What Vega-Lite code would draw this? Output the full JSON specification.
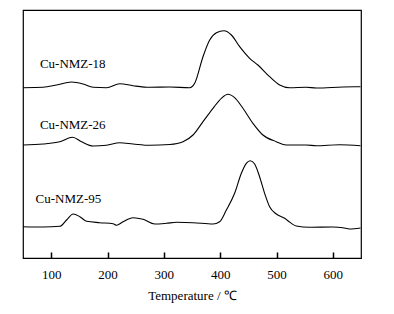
{
  "$schema": "https://vega.github.io/schema/vega-lite/v6.json",
  "width": 338,
  "height": 248,
  "autosize": "none",
  "padding": {"left": 23, "top": 10, "right": 33, "bottom": 56},
  "background": "white",
  "config": {
    "view": {"stroke": "black", "strokeWidth": 1.2},
    "font": "Liberation Serif"
  },
  "datasets": {
    "curves": [
      {"s": "Cu-NMZ-18", "T": 50, "v": 170.3},
      {"s": "Cu-NMZ-18", "T": 85.8, "v": 170.7},
      {"s": "Cu-NMZ-18", "T": 109.6, "v": 173},
      {"s": "Cu-NMZ-18", "T": 136.2, "v": 176},
      {"s": "Cu-NMZ-18", "T": 156.7, "v": 174},
      {"s": "Cu-NMZ-18", "T": 174.5, "v": 170.7},
      {"s": "Cu-NMZ-18", "T": 198.2, "v": 170.3},
      {"s": "Cu-NMZ-18", "T": 221.8, "v": 174.3},
      {"s": "Cu-NMZ-18", "T": 245.4, "v": 172.3},
      {"s": "Cu-NMZ-18", "T": 275, "v": 170.7},
      {"s": "Cu-NMZ-18", "T": 310.5, "v": 171},
      {"s": "Cu-NMZ-18", "T": 345.9, "v": 170.3},
      {"s": "Cu-NMZ-18", "T": 354.8, "v": 174.7},
      {"s": "Cu-NMZ-18", "T": 369.5, "v": 201.3},
      {"s": "Cu-NMZ-18", "T": 381.4, "v": 218},
      {"s": "Cu-NMZ-18", "T": 393.3, "v": 225.3},
      {"s": "Cu-NMZ-18", "T": 406.7, "v": 227.3},
      {"s": "Cu-NMZ-18", "T": 419.9, "v": 223},
      {"s": "Cu-NMZ-18", "T": 434.6, "v": 211.3},
      {"s": "Cu-NMZ-18", "T": 452.3, "v": 199.7},
      {"s": "Cu-NMZ-18", "T": 467.0, "v": 193},
      {"s": "Cu-NMZ-18", "T": 487.8, "v": 181.3},
      {"s": "Cu-NMZ-18", "T": 505.5, "v": 173},
      {"s": "Cu-NMZ-18", "T": 523.2, "v": 170.3},
      {"s": "Cu-NMZ-18", "T": 552.8, "v": 170.7},
      {"s": "Cu-NMZ-18", "T": 570.6, "v": 170},
      {"s": "Cu-NMZ-18", "T": 617.7, "v": 171},
      {"s": "Cu-NMZ-18", "T": 649, "v": 171.3},
      {"s": "Cu-NMZ-26", "T": 50, "v": 113},
      {"s": "Cu-NMZ-26", "T": 85.8, "v": 114},
      {"s": "Cu-NMZ-26", "T": 115.4, "v": 116.3},
      {"s": "Cu-NMZ-26", "T": 137.9, "v": 120.7},
      {"s": "Cu-NMZ-26", "T": 153.9, "v": 116.3},
      {"s": "Cu-NMZ-26", "T": 174.5, "v": 112},
      {"s": "Cu-NMZ-26", "T": 198.2, "v": 112.7},
      {"s": "Cu-NMZ-26", "T": 221.8, "v": 115.3},
      {"s": "Cu-NMZ-26", "T": 245.4, "v": 114},
      {"s": "Cu-NMZ-26", "T": 275, "v": 112.7},
      {"s": "Cu-NMZ-26", "T": 310.5, "v": 113.5},
      {"s": "Cu-NMZ-26", "T": 334.1, "v": 116.3},
      {"s": "Cu-NMZ-26", "T": 351.8, "v": 123},
      {"s": "Cu-NMZ-26", "T": 369.5, "v": 136.3},
      {"s": "Cu-NMZ-26", "T": 387.3, "v": 149.7},
      {"s": "Cu-NMZ-26", "T": 402.1, "v": 159.7},
      {"s": "Cu-NMZ-26", "T": 413.8, "v": 163.7},
      {"s": "Cu-NMZ-26", "T": 425.7, "v": 160.3},
      {"s": "Cu-NMZ-26", "T": 440.4, "v": 149.7},
      {"s": "Cu-NMZ-26", "T": 458.2, "v": 134.7},
      {"s": "Cu-NMZ-26", "T": 475.9, "v": 123},
      {"s": "Cu-NMZ-26", "T": 499.6, "v": 116.3},
      {"s": "Cu-NMZ-26", "T": 517.4, "v": 113},
      {"s": "Cu-NMZ-26", "T": 552.8, "v": 113},
      {"s": "Cu-NMZ-26", "T": 570.6, "v": 112.3},
      {"s": "Cu-NMZ-26", "T": 611.9, "v": 113.3},
      {"s": "Cu-NMZ-26", "T": 649, "v": 112.3},
      {"s": "Cu-NMZ-95", "T": 50, "v": 31.3},
      {"s": "Cu-NMZ-95", "T": 85.8, "v": 31},
      {"s": "Cu-NMZ-95", "T": 115.4, "v": 31.7},
      {"s": "Cu-NMZ-95", "T": 127.3, "v": 38},
      {"s": "Cu-NMZ-95", "T": 139, "v": 44},
      {"s": "Cu-NMZ-95", "T": 150.9, "v": 41.3},
      {"s": "Cu-NMZ-95", "T": 162.8, "v": 36.7},
      {"s": "Cu-NMZ-95", "T": 186.3, "v": 35.3},
      {"s": "Cu-NMZ-95", "T": 210, "v": 34.3},
      {"s": "Cu-NMZ-95", "T": 216, "v": 32.7},
      {"s": "Cu-NMZ-95", "T": 227.7, "v": 36.3},
      {"s": "Cu-NMZ-95", "T": 245.4, "v": 40.3},
      {"s": "Cu-NMZ-95", "T": 263.1, "v": 38.7},
      {"s": "Cu-NMZ-95", "T": 283.9, "v": 34},
      {"s": "Cu-NMZ-95", "T": 304.6, "v": 34.7},
      {"s": "Cu-NMZ-95", "T": 322.3, "v": 35.7},
      {"s": "Cu-NMZ-95", "T": 351.8, "v": 35.3},
      {"s": "Cu-NMZ-95", "T": 387.3, "v": 34},
      {"s": "Cu-NMZ-95", "T": 399.1, "v": 36.3},
      {"s": "Cu-NMZ-95", "T": 411, "v": 48},
      {"s": "Cu-NMZ-95", "T": 425.7, "v": 64.7},
      {"s": "Cu-NMZ-95", "T": 437.6, "v": 84.7},
      {"s": "Cu-NMZ-95", "T": 446.4, "v": 94.7},
      {"s": "Cu-NMZ-95", "T": 453.5, "v": 97.3},
      {"s": "Cu-NMZ-95", "T": 461.2, "v": 94},
      {"s": "Cu-NMZ-95", "T": 470, "v": 81.3},
      {"s": "Cu-NMZ-95", "T": 478.9, "v": 64.7},
      {"s": "Cu-NMZ-95", "T": 487.8, "v": 51.3},
      {"s": "Cu-NMZ-95", "T": 499.6, "v": 44},
      {"s": "Cu-NMZ-95", "T": 514.4, "v": 39.7},
      {"s": "Cu-NMZ-95", "T": 520.2, "v": 37.3},
      {"s": "Cu-NMZ-95", "T": 535.1, "v": 32},
      {"s": "Cu-NMZ-95", "T": 558.7, "v": 30.7},
      {"s": "Cu-NMZ-95", "T": 600, "v": 31},
      {"s": "Cu-NMZ-95", "T": 617.7, "v": 30.3},
      {"s": "Cu-NMZ-95", "T": 629.6, "v": 29},
      {"s": "Cu-NMZ-95", "T": 649, "v": 30}
    ],
    "labels": [
      {"s": "Cu-NMZ-18", "T": 80, "v": 194},
      {"s": "Cu-NMZ-26", "T": 80, "v": 133},
      {"s": "Cu-NMZ-95", "T": 72.3, "v": 58.7}
    ]
  },
  "encoding": {
    "x": {
      "field": "T", "type": "quantitative",
      "scale": {"domain": [50, 650], "nice": false, "zero": false},
      "axis": {
        "title": "Temperature / ℃",
        "values": [100, 200, 300, 400, 500, 600],
        "grid": false,
        "tickSize": -6,
        "tickWidth": 1.5,
        "tickColor": "black",
        "domainColor": "black",
        "domainWidth": 1.2,
        "labelFont": "Liberation Serif",
        "labelFontSize": 13,
        "labelColor": "black",
        "labelPadding": 16,
        "titleFont": "Liberation Serif",
        "titleFontSize": 13,
        "titleFontWeight": "normal",
        "titleColor": "black",
        "titlePadding": 8
      }
    },
    "y": {
      "field": "v", "type": "quantitative",
      "scale": {"domain": [0, 248], "nice": false},
      "axis": null
    }
  },
  "layer": [
    {
      "data": {"name": "curves"},
      "mark": {"type": "line", "color": "black", "strokeWidth": 1.1, "interpolate": "monotone"},
      "encoding": {"detail": {"field": "s"}}
    },
    {
      "data": {"name": "labels"},
      "mark": {"type": "text", "align": "left", "baseline": "middle", "font": "Liberation Serif", "fontSize": 13, "color": "black"},
      "encoding": {"text": {"field": "s"}}
    }
  ]
}
